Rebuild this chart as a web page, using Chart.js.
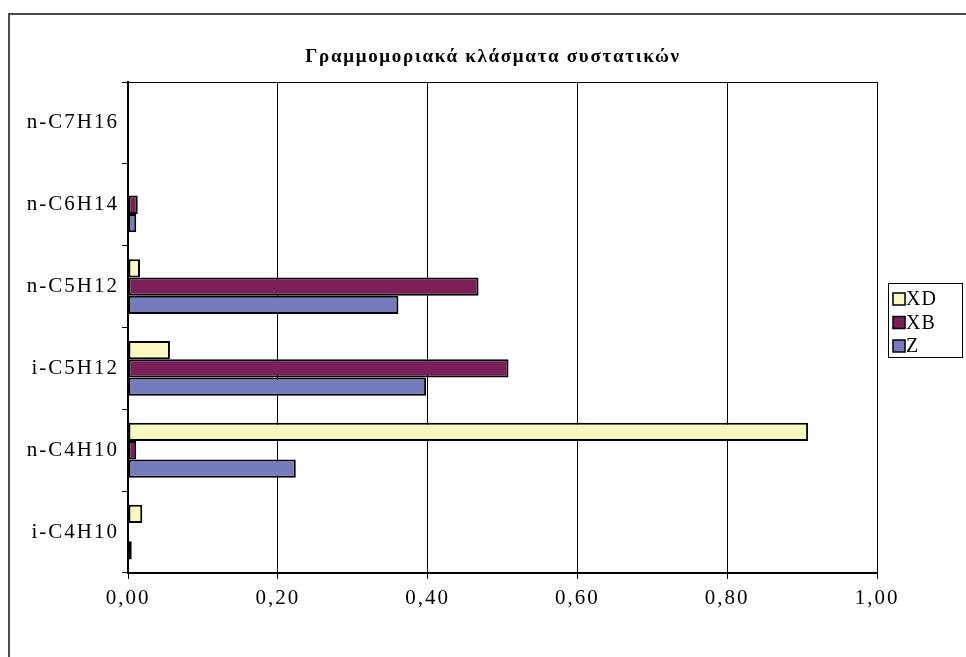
<!DOCTYPE html>
<html>
<head>
<meta charset="utf-8">
<script src="https://cdn.jsdelivr.net/npm/chart.js@4/dist/chart.umd.min.js"></script>
<style>
  html, body { margin: 0; padding: 0; background: #fff; }
  #wrap { position: relative; width: 966px; height: 657px; }
</style>
</head>
<body>
<div id="wrap"><canvas id="c" width="966" height="657"></canvas></div>
<script>
// Components, listed from the bottom of the chart upward
const categories = ['i-C4H10', 'n-C4H10', 'i-C5H12', 'n-C5H12', 'n-C6H14', 'n-C7H16'];

// Mole fractions per component
const seriesNames = ['XD', 'XB', 'Z'];
const xdValues = [0.019, 0.908, 0.056, 0.016, 0.000, 0.000];
const xbValues = [0.000, 0.011, 0.508, 0.468, 0.013, 0.000];
const zValues  = [0.005, 0.224, 0.398, 0.361, 0.011, 0.000];

const xTicks = [0, 0.2, 0.4, 0.6, 0.8, 1.0];
const titleText = 'Γραμμομοριακά κλάσματα συστατικών';

const FONT = '"Liberation Serif", "Times New Roman", serif';
const colors = ['#F8F8C0', '#7A1F5A', '#767BBB'];
const TEXT_SPACING = '2px';

// Applies letter spacing to the canvas context used for all text
const spacingPlugin = {
  id: 'spacing',
  beforeUpdate(chart) { chart.ctx.letterSpacing = TEXT_SPACING; },
  beforeDraw(chart) { chart.ctx.letterSpacing = TEXT_SPACING; }
};

// Outer frame, plot border, title and framed legend
const decorPlugin = {
  id: 'decor',
  beforeDraw(chart) {
    const ctx = chart.ctx;
    ctx.save();
    ctx.fillStyle = '#fff';
    ctx.fillRect(0, 0, chart.width, chart.height);
    ctx.strokeStyle = '#4a4a4a';
    ctx.lineWidth = 2;
    ctx.beginPath();
    ctx.moveTo(9, chart.height + 5);
    ctx.lineTo(9, 14);
    ctx.lineTo(chart.width + 5, 14);
    ctx.stroke();
    ctx.restore();
  },
  beforeDatasetsDraw(chart) {
    const {ctx, chartArea: a} = chart;
    ctx.save();
    ctx.strokeStyle = '#000';
    ctx.lineWidth = 1;
    ctx.beginPath();
    ctx.moveTo(a.left, a.top + 0.5);
    ctx.lineTo(a.right, a.top + 0.5);
    ctx.stroke();
    ctx.restore();
  },
  afterDraw(chart) {
    const ctx = chart.ctx;
    ctx.save();
    // title
    ctx.letterSpacing = '1.7px';
    ctx.fillStyle = '#000';
    ctx.font = 'bold 19px ' + FONT;
    ctx.textAlign = 'center';
    ctx.textBaseline = 'middle';
    ctx.fillText(titleText, 493, 57);

    // legend
    ctx.letterSpacing = '1px';
    const lx = 888, ly = 283, lw = 74, lh = 74;
    ctx.strokeStyle = '#000';
    ctx.lineWidth = 1;
    ctx.strokeRect(lx + 0.5, ly + 0.5, lw, lh);
    ctx.font = '20px ' + FONT;
    ctx.textAlign = 'left';
    chart.data.datasets.forEach((ds, i) => {
      const cy = ly + 16 + i * 23.5;
      ctx.fillStyle = ds.backgroundColor;
      ctx.fillRect(893, cy - 6, 12, 12);
      ctx.lineWidth = 1.5;
      ctx.strokeRect(893, cy - 6, 12, 12);
      ctx.fillStyle = '#000';
      ctx.fillText(ds.label, 906, cy + 1);
    });
    ctx.restore();
  }
};

const seriesValues = [xdValues, xbValues, zValues];

new Chart(document.getElementById('c'), {
  type: 'bar',
  data: {
    labels: categories,
    datasets: seriesNames.map((name, i) => ({
      label: name,
      data: seriesValues[i],
      backgroundColor: colors[i],
      borderColor: '#000',
      borderWidth: 2,
      borderSkipped: false,
      categoryPercentage: 0.67,
      barPercentage: 1.0
    }))
  },
  options: {
    indexAxis: 'y',
    responsive: false,
    animation: false,
    devicePixelRatio: 1,
    layout: { padding: { left: 0, right: 89, top: 82, bottom: 34 } },
    plugins: {
      legend: { display: false },
      title: { display: false },
      tooltip: { enabled: false }
    },
    scales: {
      x: {
        type: 'linear',
        min: 0,
        max: 1,
        afterBuildTicks(scale) { scale.ticks = xTicks.map(v => ({ value: v })); },
        afterFit(scale) { scale.height = 50; },
        ticks: {
          color: '#000',
          font: { family: FONT, size: 21 },
          padding: 7,
          callback: v => v.toFixed(2).replace('.', ',')
        },
        grid: { color: '#000', lineWidth: 1, tickLength: 6, drawTicks: true },
        border: { color: '#000', width: 2 }
      },
      y: {
        reverse: true,
        afterFit(scale) { scale.width = 128; },
        ticks: {
          color: '#000',
          font: { family: FONT, size: 21 },
          padding: 3
        },
        grid: { drawOnChartArea: false, color: '#000', tickLength: 6, offset: true },
        border: { color: '#000', width: 2 }
      }
    }
  },
  plugins: [spacingPlugin, decorPlugin]
});
</script>
</body>
</html>
